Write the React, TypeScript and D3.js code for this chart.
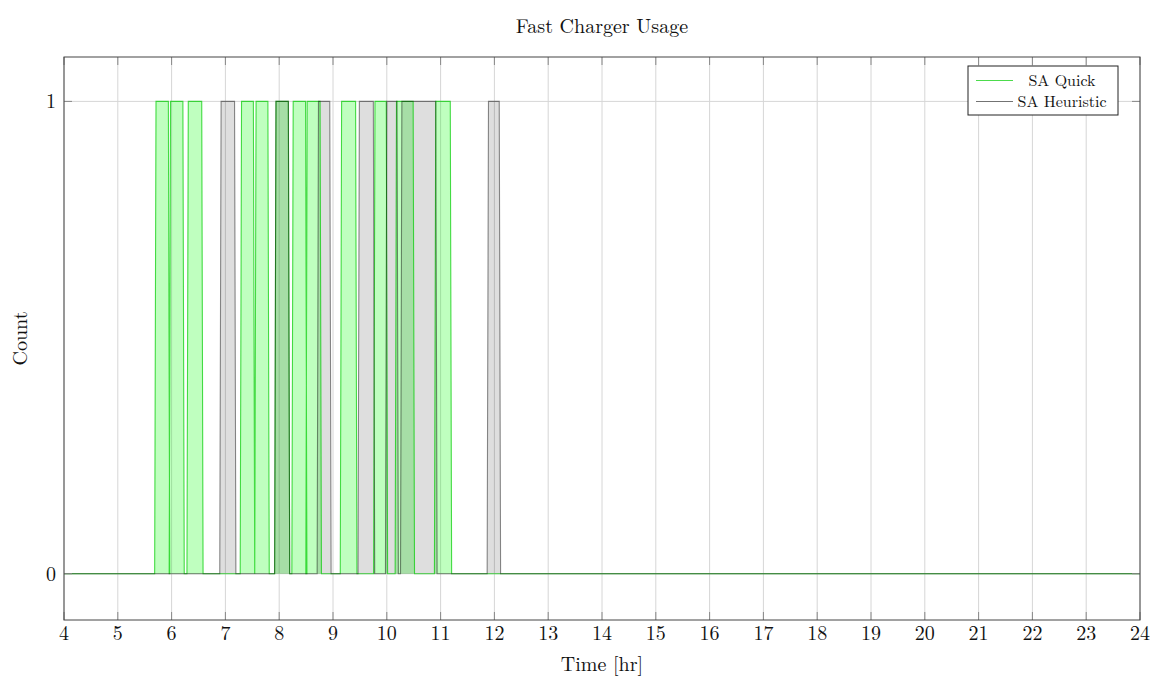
import React from "react";
import * as d3 from "d3";

// On-intervals (hours) during which one fast charger is in use.
const quickIntervals: [number, number][] = [
  [5.71, 5.94], [5.98, 6.21], [6.31, 6.56], [7.30, 7.52], [7.57, 7.79],
  [7.94, 8.17], [8.26, 8.49], [8.52, 8.76], [9.16, 9.42], [9.78, 9.99],
  [10.18, 10.49], [10.91, 11.18],
];
const heuristicIntervals: [number, number][] = [
  [6.92, 7.17], [7.94, 8.17], [8.73, 8.94], [9.49, 9.75], [10.0, 10.19],
  [10.28, 10.91], [11.89, 12.09],
];
const xTicks = d3.range(4, 25);
const yTicks = [0, 1];
const seriesNames = ["SA Quick", "SA Heuristic"];

const W = 1156, H = 683;
const M = { left: 64, right: 1140, top: 57, bottom: 620 };
const FONT = "'Latin Modern Roman', 'CMU Serif', 'Liberation Serif', serif";

// Turn on-intervals into a step series that starts and ends at 0,
// with a short ramp on each switching edge.
function toSteps(iv: [number, number][], ramp = 0.025): [number, number][] {
  const pts: [number, number][] = [[4, 0]];
  iv.forEach(([a, b]) => {
    pts.push([a - ramp, 0], [a, 1], [b, 1], [b + ramp, 0]);
  });
  pts.push([24, 0]);
  return pts;
}

export default function App() {
  const x = d3.scaleLinear().domain([4, 24]).range([M.left, M.right]);
  const y = d3.scaleLinear().domain([-0.098, 1.094]).range([M.bottom, M.top]);

  const line = d3.line<[number, number]>().x(d => x(d[0])).y(d => y(d[1]));
  const area = d3.area<[number, number]>().x(d => x(d[0])).y0(y(0)).y1(d => y(d[1]));

  const quick = toSteps(quickIntervals);
  const heur = toSteps(heuristicIntervals);

  return (
    <svg width={W} height={H} style={{ position: "absolute", left: 0, top: 0, background: "#fff" }}
      fontFamily={FONT}>
      <rect x={0} y={0} width={W} height={H} fill="#fff" />
      {/* grid */}
      {xTicks.map(t => (
        <line key={"gx" + t} x1={x(t)} x2={x(t)} y1={M.top} y2={M.bottom} stroke="#d6d6d6" strokeWidth={1} />
      ))}
      {yTicks.map(t => (
        <line key={"gy" + t} x1={M.left} x2={M.right} y1={y(t)} y2={y(t)} stroke="#d6d6d6" strokeWidth={1} />
      ))}
      {/* series */}
      <path d={area(quick) ?? ""} fill="#00ff00" fillOpacity={0.25} />
      <path d={area(heur) ?? ""} fill="#000" fillOpacity={0.13} />
      <path d={line(quick) ?? ""} fill="none" stroke="#00cc00" strokeOpacity={0.7} strokeWidth={1.1} />
      <path d={line(heur) ?? ""} fill="none" stroke="#000" strokeOpacity={0.45} strokeWidth={1.1} />
      {/* ticks */}
      {xTicks.map(t => (
        <g key={"tx" + t}>
          <line x1={x(t)} x2={x(t)} y1={M.bottom} y2={M.bottom - 8} stroke="#888" />
          <line x1={x(t)} x2={x(t)} y1={M.top} y2={M.top + 8} stroke="#888" />
          <text x={x(t)} y={M.bottom + 20} textAnchor="middle" fontSize={20} fill="#111">{t}</text>
        </g>
      ))}
      {yTicks.map(t => (
        <g key={"ty" + t}>
          <line x1={M.left} x2={M.left + 8} y1={y(t)} y2={y(t)} stroke="#888" />
          <line x1={M.right} x2={M.right - 8} y1={y(t)} y2={y(t)} stroke="#888" />
          <text x={M.left - 8} y={y(t) + 7} textAnchor="end" fontSize={20} fill="#111">{t}</text>
        </g>
      ))}
      {/* frame */}
      <rect x={M.left} y={M.top} width={M.right - M.left} height={M.bottom - M.top} fill="none" stroke="#444" strokeWidth={1} />
      {/* labels */}
      <text x={(M.left + M.right) / 2} y={33} textAnchor="middle" fontSize={20} fill="#111">Fast Charger Usage</text>
      <text x={(M.left + M.right) / 2} y={671} textAnchor="middle" fontSize={20} fill="#111">Time [hr]</text>
      <text transform={`translate(27,${(M.top + M.bottom) / 2}) rotate(-90)`} textAnchor="middle" fontSize={20} fill="#111">Count</text>
      {/* legend */}
      <g>
        <rect x={968} y={66} width={150} height={49} fill="#fff" stroke="#222" strokeWidth={1} />
        <line x1={976} x2={1013} y1={80.5} y2={80.5} stroke="#00cc00" strokeOpacity={0.7} strokeWidth={1.1} />
        <text x={1062} y={86} textAnchor="middle" fontSize={16} fill="#111">{seriesNames[0]}</text>
        <line x1={976} x2={1013} y1={101.5} y2={101.5} stroke="#000" strokeOpacity={0.55} strokeWidth={1.1} />
        <text x={1062} y={107} textAnchor="middle" fontSize={16} fill="#111">{seriesNames[1]}</text>
      </g>
    </svg>
  );
}
